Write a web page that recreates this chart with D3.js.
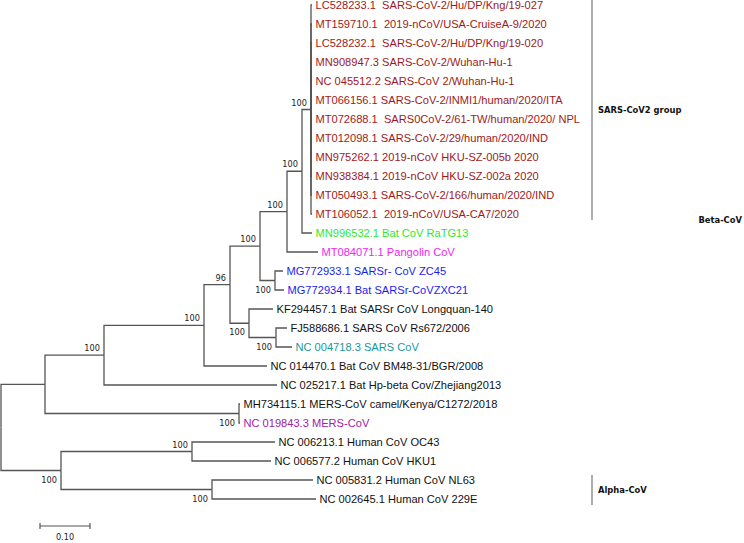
<!DOCTYPE html>
<html>
<head>
<meta charset="utf-8">
<script src="https://cdn.jsdelivr.net/npm/d3@7"></script>
<style>
  body { margin: 0; background: #fff; }
  text { white-space: pre; }
</style>
</head>
<body>
<svg width="744" height="543"></svg>
<script>
// leaves, top to bottom
const leafNames = [
  "LC528233.1  SARS-CoV-2/Hu/DP/Kng/19-027",
  "MT159710.1  2019-nCoV/USA-CruiseA-9/2020",
  "LC528232.1  SARS-CoV-2/Hu/DP/Kng/19-020",
  "MN908947.3 SARS-CoV-2/Wuhan-Hu-1",
  "NC 045512.2 SARS-CoV 2/Wuhan-Hu-1",
  "MT066156.1 SARS-CoV-2/INMI1/human/2020/ITA",
  "MT072688.1  SARS0CoV-2/61-TW/human/2020/ NPL",
  "MT012098.1 SARS-CoV-2/29/human/2020/IND",
  "MN975262.1 2019-nCoV HKU-SZ-005b 2020",
  "MN938384.1 2019-nCoV HKU-SZ-002a 2020",
  "MT050493.1 SARS-CoV-2/166/human/2020/IND",
  "MT106052.1  2019-nCoV/USA-CA7/2020",
  "MN996532.1 Bat CoV RaTG13",
  "MT084071.1 Pangolin CoV",
  "MG772933.1 SARSr- CoV ZC45",
  "MG772934.1 Bat SARSr-CoVZXC21",
  "KF294457.1 Bat SARSr CoV Longquan-140",
  "FJ588686.1 SARS CoV Rs672/2006",
  "NC 004718.3 SARS CoV",
  "NC 014470.1 Bat CoV BM48-31/BGR/2008",
  "NC 025217.1 Bat Hp-beta Cov/Zhejiang2013",
  "MH734115.1 MERS-CoV camel/Kenya/C1272/2018",
  "NC 019843.3 MERS-CoV",
  "NC 006213.1 Human CoV OC43",
  "NC 006577.2 Human CoV HKU1",
  "NC 005831.2 Human CoV NL63",
  "NC 002645.1 Human CoV 229E"
];
const leafParents = ["S2","S2","S2","S2","S2","S2","S2","S2","S2","S2","S2","S2",
  "A","B","MG","MG","E","D","D","G","H","MERS","MERS","K","K","L","L"];
const leafLengths = [0.002,0.002,0.002,0.002,0.002,0.002,0.002,0.002,0.002,0.002,0.002,0.002,
  0.020,0.062,0.016,0.018,0.048,0.022,0.032,0.126,0.346,0.002,0.002,0.166,0.158,0.202,0.208];
const leafClade = ["sars2","sars2","sars2","sars2","sars2","sars2","sars2","sars2","sars2","sars2","sars2","sars2",
  "ratg13","pangolin","zc45","zc45","other","other","sars","other","other","other","mers","other","other","other","other"];

// internal nodes
const nodeNames   = ["root","beta","H","G","F","C","B","A","S2","MG","E","D","MERS","J","K","L"];
const nodeParents = ["","root","beta","H","G","F","C","B","A","C","F","E","beta","root","J","J"];
const nodeLengths = [0,0.088,0.118,0.200,0.052,0.060,0.054,0.030,0.018,0.030,0.038,0.054,0.388,0.120,0.262,0.302];
const nodeSupport = [null,null,100,100,96,100,100,100,100,100,100,100,100,100,100,100];

// clade brackets
const brackets = [
  { label: "SARS-CoV2 group", from: 0, to: 11, line: true },
  { label: "Beta-CoV", from: 11, to: 11, line: false },
  { label: "Alpha-CoV", from: 25, to: 26, line: true }
];

const scaleBarValue = 0.10;

const svg = d3.select("svg");

const table = nodeNames.map((d, i) => ({ id: d, parent: nodeParents[i] || null, len: nodeLengths[i], support: nodeSupport[i] }))
  .concat(leafNames.map((d, i) => ({ id: d, parent: leafParents[i], len: leafLengths[i], support: null })));

const root = d3.stratify().id(d => d.id).parentId(d => d.parent)(table);

// keep the leaf order of the picture
root.eachAfter(n => {
  n.order = n.children ? d3.min(n.children, c => c.order) : leafNames.indexOf(n.id);
});
root.sort((a, b) => a.order - b.order);

const x = d3.scaleLinear().domain([0, 1]).range([1, 501]);
const y = d3.scaleLinear().domain([0, leafNames.length - 1]).range([5, 499]);

root.eachBefore(n => { n.dist = n.parent ? n.parent.dist + n.data.len : 0; });
root.eachAfter(n => {
  n.px = x(n.dist);
  n.py = n.children ? (n.children[0].py + n.children[n.children.length - 1].py) / 2 : y(n.order);
});

// branches
svg.append("g")
  .selectAll("path")
  .data(root.links())
  .join("path")
  .attr("d", l => `M${l.source.px},${l.source.py}V${l.target.py}H${l.target.px}`)
  .attr("fill", "none")
  .attr("stroke", "#555")
  .attr("stroke-width", 1.3);

// tip labels
const colour = d3.scaleOrdinal()
  .domain(["sars2", "ratg13", "pangolin", "zc45", "sars", "mers", "other"])
  .range(["#9e1a1a", "#2ee82e", "#ee28ee", "#1c1cf0", "#17999a", "#a020a8", "#111"]);

svg.append("g")
  .selectAll("text")
  .data(root.leaves())
  .join("text")
  .attr("x", d => d.px + 3.5)
  .attr("y", d => d.py)
  .attr("dy", "0.36em")
  .attr("font-family", "Liberation Sans, Arial, sans-serif")
  .attr("font-size", 11.1)
  .attr("fill", d => colour(leafClade[d.order]))
  .text(d => d.id);

// bootstrap values
svg.append("g")
  .selectAll("text")
  .data(root.descendants().filter(d => d.data.support != null))
  .join("text")
  .attr("x", d => d.px - 4)
  .attr("y", d => d.parent.children[0] === d ? d.py - 4 : d.py + 12)
  .attr("text-anchor", "end")
  .attr("font-family", "DejaVu Sans, sans-serif")
  .attr("font-size", 8.2)
  .attr("fill", "#222")
  .text(d => d.data.support);

// clade brackets
const bx = 592;
brackets.forEach(b => {
  const y0 = y(b.from) - 5, y1 = y(b.to) + 6;
  if (b.line) {
    svg.append("line")
      .attr("x1", bx).attr("x2", bx)
      .attr("y1", y0).attr("y2", y1)
      .attr("stroke", "#777").attr("stroke-width", 1.2);
  }
  svg.append("text")
    .attr("x", b.line ? bx + 6 : 742)
    .attr("y", b.line ? (y0 + y1) / 2 : y1)
    .attr("dy", "0.35em")
    .attr("text-anchor", b.line ? "start" : "end")
    .attr("font-family", "DejaVu Sans, Verdana, sans-serif")
    .attr("font-weight", "bold")
    .attr("font-size", 8.4)
    .attr("fill", "#111")
    .text(b.label);
});

// scale bar
const sb0 = 40, sbY = 526;
const sb1 = sb0 + x(scaleBarValue) - x(0);
const sb = svg.append("g").attr("stroke", "#555").attr("stroke-width", 1.2);
sb.append("line").attr("x1", sb0).attr("x2", sb1).attr("y1", sbY).attr("y2", sbY);
sb.append("line").attr("x1", sb0).attr("x2", sb0).attr("y1", sbY - 3).attr("y2", sbY + 3);
sb.append("line").attr("x1", sb1).attr("x2", sb1).attr("y1", sbY - 3).attr("y2", sbY + 3);
svg.append("text")
  .attr("x", (sb0 + sb1) / 2)
  .attr("y", 540)
  .attr("text-anchor", "middle")
  .attr("font-family", "DejaVu Sans, sans-serif")
  .attr("font-size", 8.2)
  .attr("fill", "#222")
  .text(scaleBarValue.toFixed(2));
</script>
</body>
</html>
